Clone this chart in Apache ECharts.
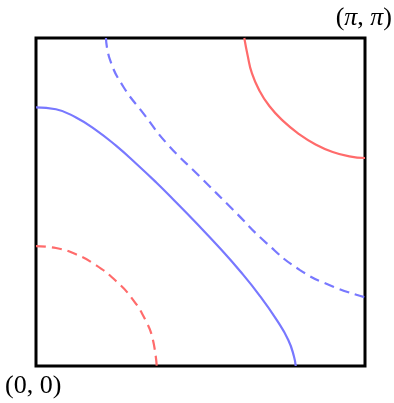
<!DOCTYPE html>
<html>
<head>
<meta charset="utf-8">
<script src="https://cdn.jsdelivr.net/npm/echarts@6/dist/echarts.min.js"></script>
<style>
  html, body { margin: 0; padding: 0; background: #fff; }
  #chart { width: 394px; height: 403px; }
</style>
</head>
<body>
<div id="chart"></div>
<script>
// contour lines, [x, y] in 0..pi
var redSolid = [[1.989, 3.1416], [2.022, 2.969], [2.060, 2.809], [2.132, 2.640], [2.228, 2.490], [2.356, 2.350], [2.514, 2.220], [2.674, 2.120], [2.833, 2.050], [2.992, 2.008], [3.1416, 1.992]];
var blueDashed = [[0.668, 3.1416], [0.707, 2.931], [0.834, 2.675], [1.025, 2.420], [1.248, 2.133], [1.566, 1.813], [1.884, 1.494], [2.203, 1.175], [2.521, 0.919], [2.839, 0.760], [3.1416, 0.658]];
var blueSolid = [[0, 2.478], [0.191, 2.459], [0.382, 2.380], [0.573, 2.260], [0.764, 2.110], [0.955, 1.940], [1.146, 1.760], [1.311, 1.595], [1.535, 1.365], [1.757, 1.128], [1.948, 0.910], [2.139, 0.670], [2.298, 0.441], [2.409, 0.249], [2.464, 0.089], [2.480, 0]];
var redDashed = [[0, 1.149], [0.191, 1.130], [0.382, 1.070], [0.573, 0.965], [0.764, 0.814], [0.923, 0.639], [1.050, 0.430], [1.114, 0.260], [1.153, 0]];
var cornerLabels = ['(0, 0)', '({p|π}, {p|π})'];

var red = '#ff6b6b';
var blue = '#7878ff';
var labelFont = '26px "Liberation Serif", serif';

function contour(data, color, dashed) {
    return {
        type: 'line',
        data: data,
        smooth: 0.5,
        showSymbol: false,
        silent: true,
        lineStyle: { color: color, width: 2.2, type: dashed ? [10, 6] : 'solid' }
    };
}

var myChart = echarts.init(document.getElementById('chart'));
var option = {
    animation: false,
    grid: {
        left: 36, top: 38, width: 329, height: 328,
        show: true, borderColor: '#000', borderWidth: 3, backgroundColor: 'transparent'
    },
    xAxis: {
        type: 'value', min: 0, max: Math.PI,
        axisLabel: { show: false }, axisTick: { show: false },
        axisLine: { show: false }, splitLine: { show: false }
    },
    yAxis: {
        type: 'value', min: 0, max: Math.PI,
        axisLabel: { show: false }, axisTick: { show: false },
        axisLine: { show: false }, splitLine: { show: false }
    },
    graphic: [
        {
            type: 'text', left: 5, top: 373,
            style: { text: cornerLabels[0], font: labelFont, fill: '#000' }
        },
        {
            type: 'text', right: 2, top: 5,
            style: {
                text: cornerLabels[1], font: labelFont, fill: '#000',
                rich: { p: { font: 'italic ' + labelFont, fill: '#000' } }
            }
        }
    ],
    series: [
        contour(redSolid, red, false),
        contour(blueDashed, blue, true),
        contour(blueSolid, blue, false),
        contour(redDashed, red, true)
    ]
};
myChart.setOption(option);
window.addEventListener('resize', function () {
    myChart.resize();
});
</script>
</body>
</html>
